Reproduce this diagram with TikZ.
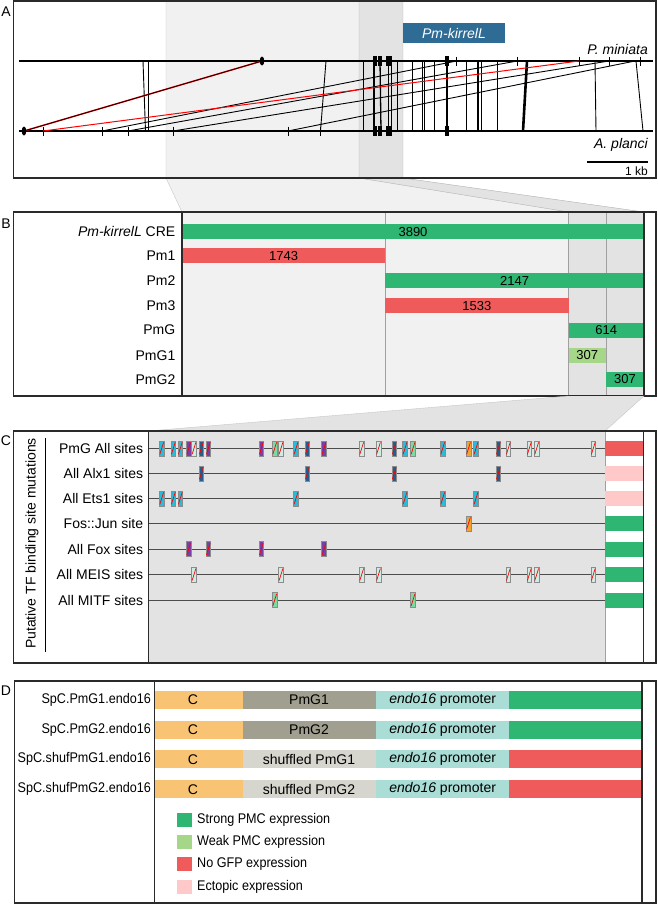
\documentclass[tikz,border=0pt]{standalone}
\usepackage{fontspec}
\setmainfont{Liberation Sans}
\newfontfamily\narrowfont[FakeStretch=0.9]{Liberation Sans}
\definecolor{lgray}{HTML}{F1F1F1}
\definecolor{mgray}{HTML}{E3E3E3}
\definecolor{bline}{HTML}{A0A0A0}
\definecolor{gstrong}{HTML}{2FB673}
\definecolor{gweak}{HTML}{A6D687}
\definecolor{rno}{HTML}{EF5B5B}
\definecolor{pecto}{HTML}{FFC9C9}
\definecolor{boxblue}{HTML}{2F6C95}
\definecolor{cC}{HTML}{F8C373}
\definecolor{cPm}{HTML}{A19F8F}
\definecolor{cShuf}{HTML}{D6D5CE}
\definecolor{cProm}{HTML}{A9DDD6}
\definecolor{sEts}{HTML}{27BCD8}
\definecolor{sAlx}{HTML}{235E8C}
\definecolor{sFox}{HTML}{7B3DA6}
\definecolor{sMeis}{HTML}{CDEDE4}
\definecolor{sMitf}{HTML}{7ADCA0}
\definecolor{sFos}{HTML}{F1A52F}
\definecolor{frm}{HTML}{2A2A2A}
\newcommand\fsz[1]{\fontsize{#1}{#1}\selectfont}
\newcommand\tfsite[3]{%
  \filldraw[fill=#3,draw=black!45,line width=0.5pt] (#1-2.4,#2-7.5) rectangle (#1+2.4,#2+7.5);
  \draw[red,line width=0.7pt] (#1-1.9,#2+6) -- (#1+1.9,#2-6);}
\begin{document}
\begin{tikzpicture}[x=1pt,y=-1pt,
  panlbl/.style={inner sep=0pt,font=\fsz{14}},
  lbl/.style={anchor=east,inner sep=0pt,font=\fsz{14}},
  dlbl/.style={anchor=east,inner sep=0pt,font=\narrowfont\fsz{14}},
  num/.style={inner sep=0pt,font=\fsz{13}},
  seg/.style={inner sep=0pt,font=\fsz{14}},
  frame/.style={draw=frm,line width=1.1pt},
  vl/.style={line width=0.9pt},
  vt/.style={line width=2.4pt},
  tick/.style={line width=0.9pt},
  conn/.style={line width=0.9pt},
  rowline/.style={draw=black!70,line width=0.9pt},
  gline/.style={draw=bline,line width=0.8pt}]
\useasboundingbox (0,0) rectangle (658,905);

% ---------------- Panel A backgrounds ----------------
\fill[lgray] (166,1) rectangle (403,178);
\fill[mgray] (359,1) rectangle (403,178);
\fill[lgray] (166,178) -- (403,178) -- (644,212) -- (182,212) -- cycle;
\fill[mgray] (359,178) -- (403,178) -- (644,212) -- (568.6,212) -- cycle;
\draw[black!22] (166,1) -- (166,178) -- (182,212);
\draw[black!30] (359,1) -- (359,178) -- (568.6,212);
\draw[black!30] (403,1) -- (403,178) -- (644,212);

% genome lines
\draw[line width=1.4pt] (19,61) -- (653,61);
\draw[line width=1.4pt] (19,131) -- (653,131);

% vertical links
\foreach \tt/\bb in {143/145.5,148.5/148.5,326/320.5,363/363,391.7/391.7,397/397,412/412,422/422,424/424,434/434,466/466,481.7/481.7,497/497,595/596,636/643}{
  \draw[vl] (\tt,61) -- (\bb,131);}
\foreach \tt/\bb in {374/374,380/381,388.5/388.5}{
  \draw[line width=1.3pt] (\tt,61) -- (\bb,131);}
\draw[line width=1.6pt] (478,61) -- (478,131);
\draw[vt] (446.7,61) -- (446.7,131);
\draw[line width=2.6pt] (527,61) -- (523,131);
% exon blobs
\foreach \xx/\ww in {374.5/4,380/4,388.5/6,446.7/4}{
  \fill (\xx-\ww/2,56) rectangle (\xx+\ww/2,66);
  \fill (\xx-\ww/2,126) rectangle (\xx+\ww/2,136);}
% ticks
\foreach \xx in {456.7,517.3,579,609,640}{
  \draw[tick] (\xx,56.5) -- (\xx,65.5);}
\foreach \xx in {43,102,128,173,288,320.5}{
  \draw[tick] (\xx,126.5) -- (\xx,135.5);}
% diagonal links
\draw[conn] (102,131) -- (456.7,61);
\draw[conn] (128,131) -- (517.3,61);
\draw[conn] (173,131) -- (609,61);
\draw[conn] (288,131) -- (635,61);
\draw[red,line width=1.5pt] (24,131) -- (262,61);
\draw[black,line width=0.7pt] (24,131) -- (262,61);
\draw[red,line width=1pt] (43,131) -- (579,61);
\fill (262,61) ellipse (2.3 and 4.5);
\fill (24,131) ellipse (2.3 and 4.5);

\node[fill=boxblue,text=white,font=\fsz{14}\itshape,minimum width=102pt,minimum height=20pt,inner sep=0pt] (kbox) at (454,33) {Pm-kirrelL};
\node[anchor=east,inner sep=0pt,font=\fsz{14}\itshape] (pmin) at (648,49) {P. miniata};
\node[anchor=east,inner sep=0pt,font=\fsz{14}\itshape] (apla) at (648,145) {A. planci};
\coordinate (sb1) at (587,162);
\coordinate (sb2) at (648,162);
\draw[line width=2.2pt] (sb1) -- (sb2);
\node[anchor=east,inner sep=0pt,font=\fsz{12}] (kb) at (648,171) {1 kb};
\draw[frame] (13.7,1) rectangle (656,178);
\node[panlbl] (labA) at (6,12) {A};

% ---------------- Panel B ----------------
\fill[lgray] (182,212) rectangle (644,396);
\fill[mgray] (568.6,212) rectangle (644,396);
\draw[gline] (385.2,212) -- (385.2,396);
\draw[gline] (568.6,212) -- (568.6,396);
\draw[gline] (606,212) -- (606,396);
\fill[gstrong] (182,224.2) rectangle (644,239.2);
\fill[rno] (182,248.3) rectangle (385.2,263.3);
\fill[gstrong] (385.2,273.3) rectangle (644,288.3);
\fill[rno] (385.2,298.3) rectangle (568.6,313.3);
\fill[gstrong] (568.6,322.6) rectangle (644,337.6);
\fill[gweak] (568.6,347.7) rectangle (606,362.7);
\fill[gstrong] (606,372) rectangle (644,387);
\node[num] (n1) at (413,231.7) {3890};
\node[num] (n2) at (283.6,255.8) {1743};
\node[num] (n3) at (514.6,280.8) {2147};
\node[num] (n4) at (476.9,305.8) {1533};
\node[num] (n5) at (606.3,330.1) {614};
\node[num] (n6) at (587.3,355.2) {307};
\node[num] (n7) at (625,379.5) {307};
\node[lbl] (b1) at (175.5,231.7) {\textit{Pm-kirrelL} CRE};
\node[lbl] (b2) at (175.5,255.8) {Pm1};
\node[lbl] (b3) at (175.5,280.8) {Pm2};
\node[lbl] (b4) at (175.5,305.8) {Pm3};
\node[lbl] (b5) at (175.5,330.1) {PmG};
\node[lbl] (b6) at (175.5,355.2) {PmG1};
\node[lbl] (b7) at (175.5,379.5) {PmG2};
\draw[frame] (13.7,212) rectangle (656,396);
\draw[frame] (182,212) -- (182,396);
\draw[frame] (644,212) -- (644,396);
\node[panlbl] (labB) at (6,224) {B};

% ---------------- B -> C zoom ----------------
\fill[mgray] (568.6,396) -- (644,396) -- (605,431) -- (148.3,431) -- cycle;
\draw[black!22] (148.3,431) -- (568.6,396);
\draw[black!22] (644,396) -- (605,431);

% ---------------- Panel C ----------------
\fill[mgray] (148.3,431) rectangle (605,663);
\draw[gline] (605,431) -- (605,663);
\foreach \yy in {448.3,473.3,498.3,523.3,549,574.5,600}{
  \draw[rowline] (148.3,\yy) -- (605,\yy);}
\foreach \xx/\col in {161.7/sEts,173.3/sEts,180.3/sEts,188.7/sFox,194/sMeis,201.3/sAlx,208.3/sFox,261.3/sFox,274.7/sMitf,281/sMeis,296/sEts,307.3/sAlx,324/sFox,361.7/sMeis,378.5/sMeis,394.2/sAlx,405/sEts,413/sMitf,442.7/sEts,468.5/sFos,476/sEts,498.3/sAlx,508.3/sMeis,529.3/sMeis,536.7/sMeis,593.3/sMeis}{
  \tfsite{\xx}{448.3}{\col}}
\foreach \xx in {201.3,307.3,394.2,498.3}{
  \tfsite{\xx}{473.3}{sAlx}}
\foreach \xx in {161.7,173.3,180.3,296,405,442.7,476}{
  \tfsite{\xx}{498.3}{sEts}}
\tfsite{468.5}{523.3}{sFos}
\foreach \xx in {188.7,208.3,261.3,324}{
  \tfsite{\xx}{549}{sFox}}
\foreach \xx in {194,281,361.7,378.5,508.3,529.3,536.7,593.3}{
  \tfsite{\xx}{574.5}{sMeis}}
\foreach \xx in {274.7,413}{
  \tfsite{\xx}{600}{sMitf}}
\foreach \yy/\col in {448.3/rno,473.3/pecto,498.3/pecto,523.3/gstrong,549/gstrong,574.5/gstrong,600/gstrong}{
  \fill[fill=\col] (605,\yy-7.5) rectangle (643.3,\yy+7.5);}
\node[lbl] (c1) at (143.3,448.3) {PmG All sites};
\node[lbl] (c2) at (143.3,473.3) {All Alx1 sites};
\node[lbl] (c3) at (143.3,498.3) {All Ets1 sites};
\node[lbl] (c4) at (143.3,523.3) {Fos::Jun site};
\node[lbl] (c5) at (143.3,549) {All Fox sites};
\node[lbl] (c6) at (143.3,574.5) {All MEIS sites};
\node[lbl] (c7) at (143.3,600) {All MITF sites};
\node[rotate=90,inner sep=0pt,font=\fsz{14}] (ylab) at (32,543.5) {Putative TF binding site mutations};
\coordinate (yl1) at (45,438);
\coordinate (yl2) at (45,652);
\draw[line width=0.8pt] (yl1) -- (yl2);
\draw[frame] (13.7,431) rectangle (656,663);
\draw[frame] (148.3,431) -- (148.3,663);
\draw[frame] (643.3,431) -- (643.3,663);
\node[panlbl] (labC) at (6,441) {C};

% ---------------- Panel D ----------------
\foreach \yy/\ptxt/\pcol/\rcol [count=\ii] in {699.5/PmG1/cPm/gstrong,729.5/PmG2/cPm/gstrong,759.3/shuffled PmG1/cShuf/rno,789.3/shuffled PmG2/cShuf/rno}{
  \fill[fill=cC] (155.3,\yy-9) rectangle (242.5,\yy+9);
  \fill[fill=\pcol] (242.5,\yy-9) rectangle (375.6,\yy+9);
  \fill[fill=cProm] (375.6,\yy-9) rectangle (509,\yy+9);
  \fill[fill=\rcol] (509,\yy-9) rectangle (641,\yy+9);
  \node[seg] (dc\ii) at (193,\yy) {C};
  \node[seg] (dp\ii) at (309,\yy) {\ptxt};
  \node[seg] (de\ii) at (442.7,\yy) {\textit{endo16} promoter};
}
\node[dlbl] (d1) at (151,699.5) {SpC.PmG1.endo16};
\node[dlbl] (d2) at (151,729.5) {SpC.PmG2.endo16};
\node[dlbl] (d3) at (151,759.3) {SpC.shufPmG1.endo16};
\node[dlbl] (d4) at (151,789.3) {SpC.shufPmG2.endo16};
\foreach \yy/\col/\ltxt [count=\ii] in {820/gstrong/Strong PMC expression,842.3/gweak/Weak PMC expression,864/rno/No GFP expression,886.7/pecto/Ectopic expression}{
  \fill[fill=\col] (177,\yy-7) rectangle (192,\yy+7);
  \node[anchor=west,inner sep=0pt,font=\narrowfont\fsz{14}] (lg\ii) at (197,\yy) {\ltxt};
}
\draw[frame] (14.7,681) rectangle (656,903);
\draw[frame] (154.4,681) -- (154.4,903);
\draw[frame] (642,681) -- (642,903);
\node[panlbl] (labD) at (6,691) {D};
\end{tikzpicture}
\end{document}
